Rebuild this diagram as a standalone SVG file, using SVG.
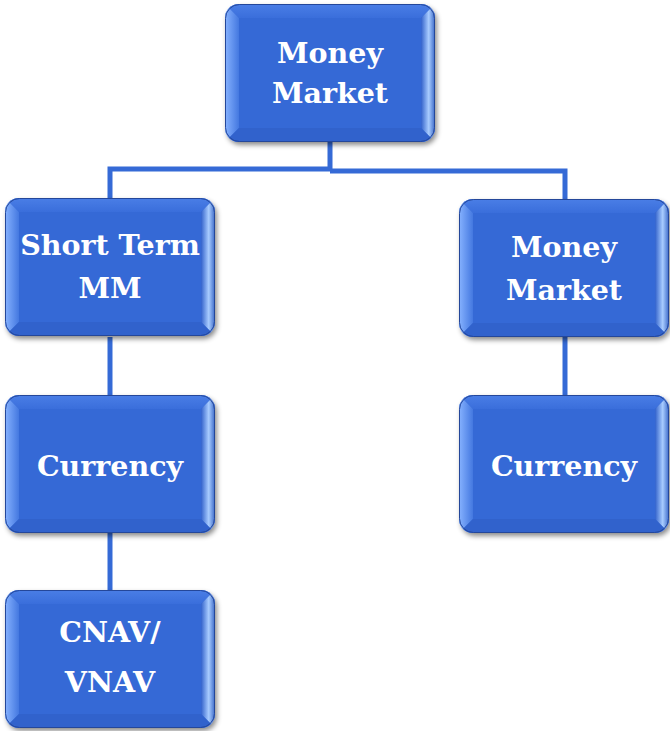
<svg xmlns="http://www.w3.org/2000/svg" xmlns:xlink="http://www.w3.org/1999/xlink" width="670" height="731" viewBox="0 0 670 731">
  <defs>
    <style>
      .conn { fill: none; stroke: #356ad6; stroke-width: 5; stroke-linejoin: miter; }
      .label { font-family: "DejaVu Serif", "Liberation Serif", serif; font-weight: bold; font-size: 28.5px; fill: #ffffff; text-anchor: middle; }
    </style>
    <filter id="shadow" x="-10%" y="-10%" width="125%" height="125%">
      <feDropShadow dx="2" dy="3" stdDeviation="2.5" flood-color="#000000" flood-opacity="0.45"/>
    </filter>
    <linearGradient id="leftBevel" x1="0" y1="0" x2="1" y2="0">
      <stop offset="0" stop-color="#86b2ff"/>
      <stop offset="1" stop-color="#4478e0"/>
    </linearGradient>
    <linearGradient id="rightBevel" x1="0" y1="0" x2="1" y2="0">
      <stop offset="0" stop-color="#3262cc"/>
      <stop offset="0.55" stop-color="#a8ccff"/>
      <stop offset="1" stop-color="#3a68c8"/>
    </linearGradient>
    <linearGradient id="topBevel" x1="0" y1="0" x2="0" y2="1">
      <stop offset="0" stop-color="#4a7ee6"/>
      <stop offset="1" stop-color="#3a6edb"/>
    </linearGradient>
    <clipPath id="boxClip">
      <rect x="0" y="0" width="210" height="138" rx="14" ry="14"/>
    </clipPath>
    <!-- bevelled box, 210 x 138 -->
    <symbol id="box" viewBox="-4 -4 220 148" width="220" height="148" overflow="visible">
      <rect x="0" y="0" width="210" height="138" rx="14" ry="14" fill="#3366d2" filter="url(#shadow)"/>
      <g clip-path="url(#boxClip)">
        <polygon points="0,0 210,0 196,14 14,14" fill="url(#topBevel)"/>
        <polygon points="0,0 14,14 14,124 0,138" fill="url(#leftBevel)"/>
        <polygon points="210,0 196,14 196,124 210,138" fill="url(#rightBevel)"/>
        <polygon points="0,138 14,124 196,124 210,138" fill="#3162cc"/>
        <rect x="14" y="14" width="182" height="110" fill="#3569d6"/>
      </g>
      <rect x="0.5" y="0.5" width="209" height="137" rx="14" ry="14" fill="none" stroke="#24479a" stroke-width="1"/>
    </symbol>
  </defs>

  <g id="connectors">
    <path class="conn" d="M330,142 V169 H110 V198"/>
    <path class="conn" d="M330,171 H565 V199"/>
    <path class="conn" d="M110,337 V396"/>
    <path class="conn" d="M110,533 V591"/>
    <path class="conn" d="M565,337 V396"/>
  </g>

  <g id="node-money-market-top">
    <use xlink:href="#box" x="221" y="0"/>
    <text class="label" x="330" y="63">Money</text>
    <text class="label" x="330" y="103">Market</text>
  </g>

  <g id="node-short-term-mm">
    <use xlink:href="#box" x="1" y="194"/>
    <text class="label" x="110" y="255">Short Term</text>
    <text class="label" x="110" y="298">MM</text>
  </g>

  <g id="node-money-market-right">
    <use xlink:href="#box" x="455" y="195"/>
    <text class="label" x="564" y="257">Money</text>
    <text class="label" x="564" y="300">Market</text>
  </g>

  <g id="node-currency-left">
    <use xlink:href="#box" x="1" y="391"/>
    <text class="label" x="110" y="476">Currency</text>
  </g>

  <g id="node-currency-right">
    <use xlink:href="#box" x="455" y="391"/>
    <text class="label" x="564" y="476">Currency</text>
  </g>

  <g id="node-cnav-vnav">
    <use xlink:href="#box" x="1" y="586"/>
    <text class="label" x="110" y="642">CNAV/</text>
    <text class="label" x="110" y="692">VNAV</text>
  </g>
</svg>
